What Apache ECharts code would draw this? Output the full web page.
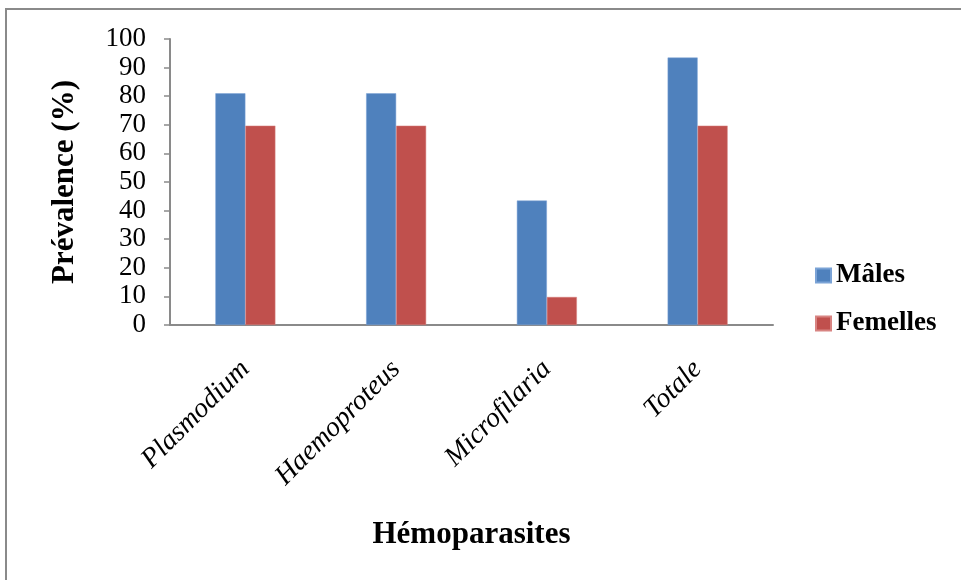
<!DOCTYPE html>
<html>
<head>
<meta charset="utf-8">
<script src="https://cdn.jsdelivr.net/npm/echarts@6/dist/echarts.min.js"></script>
<style>html,body{margin:0;padding:0;background:#fff}#c{width:961px;height:580px}</style>
</head>
<body>
<div id="c"></div>
<script>
const categories = ['Plasmodium', 'Haemoproteus', 'Microfilaria', 'Totale'];
const males = [81, 81, 43.5, 93.5];
const femelles = [69.7, 69.7, 9.8, 69.7];
const seriesNames = ['Mâles', 'Femelles'];
const yTicks = { min: 0, max: 100, interval: 10 };

const chart = echarts.init(document.getElementById('c'), null, { renderer: 'canvas' });
const serif = 'Liberation Serif, Times New Roman, serif';
chart.setOption({
  animation: false,
  backgroundColor: '#ffffff',
  graphic: [{
    type: 'rect',
    shape: { x: 6, y: 9, width: 970, height: 590 },
    style: { fill: 'none', stroke: '#8a8a8a', lineWidth: 2 },
    silent: true
  }],
  grid: { left: 170, right: 188, top: 39, bottom: 255 },
  legend: {
    orient: 'vertical',
    left: 810,
    top: 257,
    itemWidth: 15,
    itemHeight: 14,
    itemGap: 21,
    icon: 'rect',
    textStyle: { fontFamily: serif, fontWeight: 'bold', fontSize: 27, color: '#000', lineHeight: 26 },
    data: seriesNames
  },
  xAxis: {
    type: 'category',
    data: categories,
    name: 'Hémoparasites',
    nameLocation: 'middle',
    nameGap: 194,
    nameTextStyle: { fontFamily: serif, fontWeight: 'bold', fontSize: 31, color: '#000' },
    axisLine: { lineStyle: { color: '#8a8a8a', width: 2 } },
    axisTick: { show: false },
    axisLabel: { rotate: 45, margin: 40, fontFamily: serif, fontStyle: 'italic', fontSize: 28, color: '#000' }
  },
  yAxis: {
    type: 'value',
    min: yTicks.min, max: yTicks.max, interval: yTicks.interval,
    name: 'Prévalence (%)',
    nameLocation: 'middle',
    nameGap: 90,
    nameTextStyle: { fontFamily: serif, fontWeight: 'bold', fontSize: 31, color: '#000' },
    axisLine: { show: true, lineStyle: { color: '#8a8a8a', width: 2 } },
    axisTick: { show: true, length: 6, lineStyle: { color: '#8a8a8a', width: 1.5 } },
    splitLine: { show: false },
    axisLabel: { margin: 24, fontFamily: serif, fontSize: 27, color: '#000' }
  },
  series: [
    { name: seriesNames[0], type: 'bar', data: males, barWidth: 30, barGap: '0%',
      itemStyle: { color: '#4F81BD', borderColor: '#7ba3d6', borderWidth: 0.5 } },
    { name: seriesNames[1], type: 'bar', data: femelles, barWidth: 30,
      itemStyle: { color: '#C0504D', borderColor: '#d88482', borderWidth: 0.5 } }
  ]
});
</script>
</body>
</html>
